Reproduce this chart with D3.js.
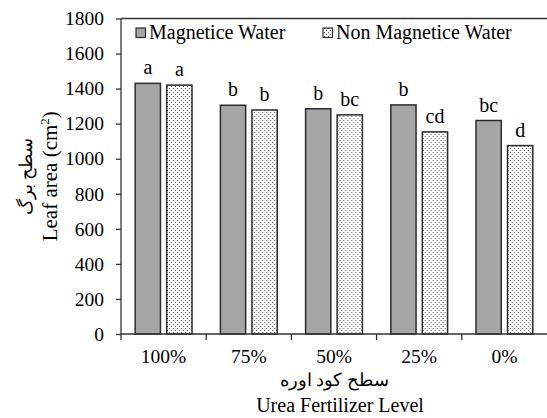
<!DOCTYPE html>
<html>
<head>
<meta charset="utf-8">
<script src="https://cdn.jsdelivr.net/npm/d3@7"></script>
<style>
  body { margin: 0; background: #fff; }
  svg text { font-family: "Liberation Serif", "Times New Roman", "DejaVu Serif", serif; fill: #000; }
</style>
</head>
<body>
<script>
//chart data
var levels = ["100%", "75%", "50%", "25%", "0%"];
var seriesNames = ["Magnetice Water", "Non Magnetice Water"];
var magnetic = [1430, 1305, 1285, 1307, 1218];
var nonMagnetic = [1420, 1278, 1250, 1153, 1075];
var magLetters = ["a", "b", "b", "b", "bc"];
var nonLetters = ["a", "b", "bc", "cd", "d"];
var yTicks = [0, 200, 400, 600, 800, 1000, 1200, 1400, 1600, 1800];

(function(){
  var width = 547, height = 418;
  var left = 121, right = 547, top = 18.5, bottom = 334;
  var serif = "Liberation Serif, Times New Roman, serif";

  var svg = d3.select("body").append("svg")
      .attr("width", width)
      .attr("height", height);

  //dotted fill for non magnetic bars
  var defs = svg.append("defs");
  var pat = defs.append("pattern")
      .attr("id", "dots")
      .attr("patternUnits", "userSpaceOnUse")
      .attr("width", 4).attr("height", 4);
  pat.append("rect").attr("width", 4).attr("height", 4).attr("fill", "#fff");
  pat.append("rect").attr("x", 0).attr("y", 0).attr("width", 1).attr("height", 1).attr("fill", "#555");
  pat.append("rect").attr("x", 2).attr("y", 2).attr("width", 1).attr("height", 1).attr("fill", "#555");

  var x = d3.scaleBand().domain(levels).range([left, right]);
  var x1 = d3.scaleBand().domain(seriesNames).range([0, x.bandwidth()]).paddingInner(0.2).paddingOuter(0.45);
  var y = d3.scaleLinear().domain([0, 1800]).range([bottom, top]);

  var rows = levels.map(function(l, i){
    return [
      {level: l, s: seriesNames[0], v: magnetic[i], t: magLetters[i]},
      {level: l, s: seriesNames[1], v: nonMagnetic[i], t: nonLetters[i]}
    ];
  });

  //top frame line
  svg.append("line")
      .attr("x1", left).attr("x2", right)
      .attr("y1", top).attr("y2", top)
      .attr("stroke", "#333").attr("stroke-width", 1.3);

  //bars
  var groups = svg.selectAll(".grp")
      .data(rows).enter().append("g")
      .attr("transform", function(d){ return "translate(" + x(d[0].level) + ",0)"; });

  groups.selectAll("rect")
      .data(function(d){ return d; }).enter().append("rect")
      .attr("x", function(d){ return x1(d.s); })
      .attr("width", x1.bandwidth())
      .attr("y", function(d){ return y(d.v); })
      .attr("height", function(d){ return bottom - y(d.v); })
      .attr("fill", function(d){ return d.s == seriesNames[0] ? "#a6a6a6" : "url(#dots)"; })
      .attr("stroke", "#2b2b2b")
      .attr("stroke-width", 1.5);

  groups.selectAll(".lbl")
      .data(function(d){ return d; }).enter().append("text")
      .attr("x", function(d){ return x1(d.s) + x1.bandwidth() / 2; })
      .attr("y", function(d){ return y(d.v) - 9; })
      .attr("text-anchor", "middle")
      .style("font-size", "20px")
      .text(function(d){ return d.t; });

  //y axis
  var yAxis = svg.append("g")
      .attr("transform", "translate(" + left + ",0)")
      .call(d3.axisLeft(y).tickValues(yTicks).tickSize(5).tickPadding(12).tickFormat(d3.format("d")));
  yAxis.attr("font-family", serif);
  yAxis.select(".domain").attr("stroke", "#333").attr("stroke-width", 1.3).attr("d", "M0," + top + "V" + bottom);
  yAxis.selectAll("line").attr("stroke", "#333").attr("stroke-width", 1.3);
  yAxis.selectAll("text").style("font-size", "19.5px");

  //x axis
  var xAxis = svg.append("g")
      .attr("transform", "translate(0," + bottom + ")")
      .call(d3.axisBottom(x).tickSize(0).tickPadding(15));
  xAxis.attr("font-family", serif);
  xAxis.select(".domain").attr("stroke", "#333").attr("stroke-width", 1.3).attr("d", "M" + left + ",0H" + right);
  xAxis.selectAll("text").style("font-size", "19.5px");
  //boundary tick marks between categories
  svg.selectAll(".xsep")
      .data(levels).enter().append("line")
      .attr("x1", function(d){ return x(d); }).attr("x2", function(d){ return x(d); })
      .attr("y1", bottom).attr("y2", bottom + 6)
      .attr("stroke", "#333").attr("stroke-width", 1.3);

  //legend
  var legend = svg.append("g");
  var legX = [136, 323];
  seriesNames.forEach(function(s, i){
    legend.append("rect")
        .attr("x", legX[i]).attr("y", 28)
        .attr("width", 9.5).attr("height", 9.5)
        .attr("fill", i == 0 ? "#a6a6a6" : "url(#dots)")
        .attr("stroke", "#2b2b2b").attr("stroke-width", 1.2);
    legend.append("text")
        .attr("x", legX[i] + 13).attr("y", 38.5)
        .style("font-size", "20px")
        .text(s);
  });

  //axis titles
  svg.append("text")
      .attr("transform", "translate(57," + ((top + bottom) / 2) + ") rotate(-90)")
      .attr("text-anchor", "middle")
      .style("font-size", "21px")
      .html("Leaf area (cm<tspan dy='-8' style='font-size:13px'>2</tspan><tspan dy='8'>)</tspan>");

  svg.append("text")
      .attr("transform", "translate(32," + ((top + bottom) / 2) + ") rotate(-90)")
      .attr("text-anchor", "middle")
      .style("font-size", "18px")
      .text("سطح برگ");

  svg.append("text")
      .attr("x", (left + right) / 2).attr("y", 386)
      .attr("text-anchor", "middle")
      .style("font-size", "18px")
      .text("سطح کود اوره");

  svg.append("text")
      .attr("x", (left + right) / 2 + 6).attr("y", 412)
      .attr("text-anchor", "middle")
      .style("font-size", "20px")
      .text("Urea Fertilizer Level");
})();
</script>
</body>
</html>
